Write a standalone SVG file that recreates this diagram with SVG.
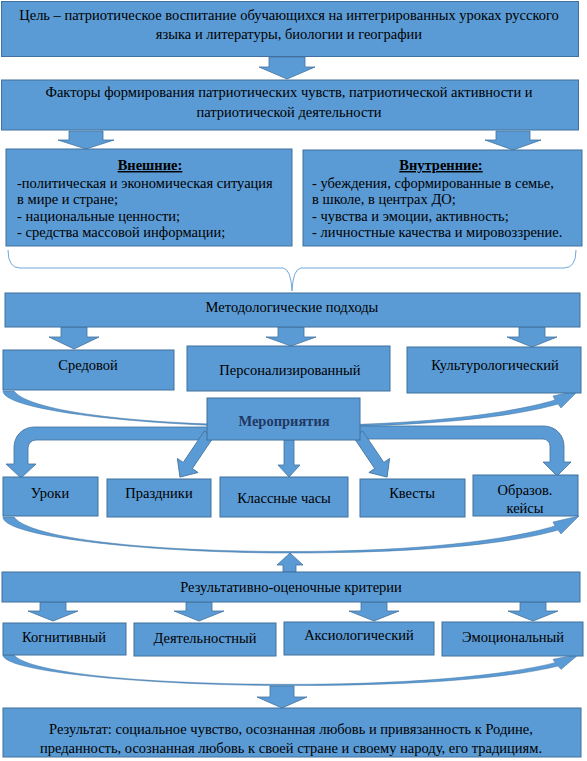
<svg xmlns="http://www.w3.org/2000/svg" width="587" height="761" viewBox="0 0 587 761">
<style>
.box{fill:#5b9bd5;stroke:#41719c;stroke-width:1}
.arr{fill:#5b9bd5;stroke:#41719c;stroke-width:0.8}
.cr{fill:#5b9bd5;stroke:#41719c;stroke-width:0.5}
.t{font-family:"Liberation Serif","Times New Roman",serif;font-size:14.5px;fill:#000;text-anchor:middle}
.l{text-anchor:start}
.h{font-weight:bold;text-decoration:underline}
.m{font-family:"Liberation Serif","Times New Roman",serif;font-size:14.5px;font-weight:bold;fill:#1f3864;text-anchor:middle}
</style>
<defs>
<path id="cres" d="M3,0 C3,20 150,36 290,36 C420,36 510,27 558,13 L561,17 L579,-1 L553,5 L555,9 C508,23 420,34.5 290,34.5 C150,34.5 30,22 14,0 Z"/>
</defs>
<g id="connectors">
<path class="arr" d="M269,57 L305,57 L305,67 L315,67 L287,79 L259,67 L269,67 Z"/>
<path class="arr" d="M69,131 L103,131 L103,140 L114,140 L86,149 L58,140 L69,140 Z"/>
<path class="arr" d="M496,131 L530,131 L530,140 L541,140 L513,150 L485,140 L496,140 Z"/>
<path d="M8,250 Q8,268 20,268 L283,268 Q291,269 292,291 Q293,269 301,268 L564,268 Q576,268 576,250" fill="none" stroke="#6fa8dc" stroke-width="1"/>
<path class="arr" d="M61,327 L87,327 L87,337 L99,337 L74,349 L49,337 L61,337 Z"/>
<path class="arr" d="M278,327 L304,327 L304,337 L316,337 L291,346 L266,337 L278,337 Z"/>
<path class="arr" d="M519,327 L545,327 L545,337 L557,337 L532,347 L507,337 L519,337 Z"/>
<use href="#cres" class="cr" transform="translate(0,391)"/>
<path class="arr" d="M212,427 L34,427 A20,20 0 0 0 14,447 L14,464 L6,464 L21,478 L36,464 L28,464 L28,448 A8,8 0 0 1 36,440 L212,440 Z"/>
<path class="arr" d="M355,426 L544,426 A20,20 0 0 1 564,446 L564,462 L571,462 L557,476 L543,462 L550,462 L550,446 A7,7 0 0 0 543,439 L355,439 Z"/>
<path class="arr" d="M-5.5,0 L5.5,0 L5.5,38 L12.5,38 L0,52 L-12.5,38 L-5.5,38 Z" transform="translate(209,434) rotate(34)"/>
<path class="arr" d="M-5.5,0 L5.5,0 L5.5,38 L12.5,38 L0,52 L-12.5,38 L-5.5,38 Z" transform="translate(358,434) rotate(-34)"/>
<path class="arr" d="M284,440 L294,440 L294,465 L300,465 L289,477 L278,465 L284,465 Z"/>
<use href="#cres" class="cr" transform="translate(0,517)"/>
<path class="arr" d="M283,572 L296,572 L296,565 L303,565 L290,553 L277,565 L283,565 Z"/>
<path class="arr" d="M40,602 L66,602 L66,611 L78,611 L53,621 L28,611 L40,611 Z"/>
<path class="arr" d="M186,602 L212,602 L212,611 L224,611 L199,621 L174,611 L186,611 Z"/>
<path class="arr" d="M361,602 L387,602 L387,611 L399,611 L374,621 L349,611 L361,611 Z"/>
<path class="arr" d="M520,602 L546,602 L546,611 L558,611 L533,621 L508,611 L520,611 Z"/>
<use href="#cres" class="cr" transform="translate(0,655) scale(1,0.85)"/>
<path class="arr" d="M270,686 L294,686 L294,697 L307,697 L282,708 L257,697 L270,697 Z"/>
</g>
<g id="goal"><rect class="box" x="1.5" y="1.5" width="577" height="55"/>
<text class="t" x="289" y="20">Цель – патриотическое воспитание обучающихся на интегрированных уроках русского</text>
<text class="t" x="289" y="39">языка и литературы, биологии и географии</text></g>
<g id="factors"><rect class="box" x="1.5" y="80" width="577" height="50"/>
<text class="t" x="289" y="97">Факторы формирования патриотических чувств,  патриотической активности и</text>
<text class="t" x="289" y="117">патриотической деятельности</text></g>
<g id="external"><rect class="box" x="6" y="149" width="286" height="97"/>
<text class="t h" x="150" y="170">Внешние:</text>
<text class="t l" x="17" y="188">-политическая и экономическая ситуация</text>
<text class="t l" x="17" y="204">в мире и стране;</text>
<text class="t l" x="17" y="221">- национальные ценности;</text>
<text class="t l" x="17" y="237">- средства массовой информации;</text></g>
<g id="internal"><rect class="box" x="303" y="150" width="279" height="96"/>
<text class="t h" x="441" y="170">Внутренние:</text>
<text class="t l" x="312" y="188">- убеждения, сформированные в семье,</text>
<text class="t l" x="312" y="204">в школе, в центрах ДО;</text>
<text class="t l" x="312" y="221">- чувства и эмоции, активность;</text>
<text class="t l" x="312" y="237">- личностные качества и мировоззрение.</text></g>
<g id="methods"><rect class="box" x="5" y="293" width="575" height="34"/>
<text class="t" x="292" y="312">Методологические подходы</text></g>
<g id="sredovoy"><rect class="box" x="3" y="350" width="171" height="40"/>
<text class="t" x="88" y="370">Средовой</text></g>
<g id="person"><rect class="box" x="187" y="346" width="203" height="45"/>
<text class="t" x="290" y="375">Персонализированный</text></g>
<g id="cult"><rect class="box" x="407" y="347" width="174" height="46"/>
<text class="t" x="495" y="370">Культурологический</text></g>
<g id="events"><rect class="box" x="207" y="398" width="153" height="42"/>
<text class="m" x="284" y="426">Мероприятия</text></g>
<g id="lessons"><rect class="box" x="3" y="477" width="95" height="39"/>
<text class="t" x="50" y="498">Уроки</text></g>
<g id="holidays"><rect class="box" x="107" y="479" width="104" height="38"/>
<text class="t" x="159" y="498">Праздники</text></g>
<g id="classhours"><rect class="box" x="220" y="477" width="128" height="40"/>
<text class="t" x="284" y="503">Классные часы</text></g>
<g id="quests"><rect class="box" x="360" y="479" width="105" height="38"/>
<text class="t" x="412" y="498">Квесты</text></g>
<g id="cases"><rect class="box" x="473" y="475" width="105" height="41"/>
<text class="t" x="525" y="495">Образов.</text>
<text class="t" x="525" y="513">кейсы</text></g>
<g id="criteria"><rect class="box" x="2" y="572" width="578" height="30"/>
<text class="t" x="291" y="592">Результативно-оценочные критерии</text></g>
<g id="cognitive"><rect class="box" x="3" y="623" width="123" height="32"/>
<text class="t" x="64" y="642">Когнитивный</text></g>
<g id="activity"><rect class="box" x="134" y="623" width="142" height="33"/>
<text class="t" x="205" y="643">Деятельностный</text></g>
<g id="axio"><rect class="box" x="284" y="622" width="150" height="33"/>
<text class="t" x="359" y="640">Аксиологический</text></g>
<g id="emotional"><rect class="box" x="442" y="622" width="141" height="34"/>
<text class="t" x="513" y="642">Эмоциональный</text></g>
<g id="result"><rect class="box" x="3" y="708" width="578" height="49"/>
<text class="t" x="291" y="734">Результат: социальное чувство, осознанная любовь и привязанность к Родине,</text>
<text class="t" x="291" y="753">преданность, осознанная любовь к своей стране и своему народу, его традициям.</text></g>
</svg>
